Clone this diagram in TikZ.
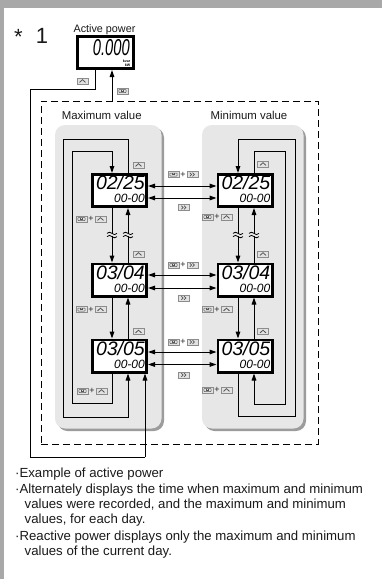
\documentclass[tikz,border=0pt]{standalone}
\usepackage{fontspec}
\setmainfont{Liberation Sans}
\usepackage{graphicx}
\usetikzlibrary{arrows.meta}
\definecolor{frame}{HTML}{A8A8A8}
\definecolor{panel}{HTML}{E7E7E7}
\definecolor{panelshadow}{HTML}{9C9C9C}
\definecolor{keyfill}{HTML}{E2E2E2}
\definecolor{keyedge}{HTML}{8C8C8C}
\definecolor{keysym}{HTML}{555555}
\definecolor{txt}{HTML}{1A1A1A}
\tikzset{
  conn/.style={line width=1pt, draw=black},
  arr/.style={conn, -{Triangle[length=7pt,width=4.6pt]}},
  darr/.style={conn, {Triangle[length=7pt,width=4.6pt]}-{Triangle[length=7pt,width=4.6pt]}},
  lcd/.style={draw, line width=2.6pt, fill=white, minimum width=54.4pt, minimum height=32.4pt, inner sep=0pt},
  bigdig/.style={font=\fontsize{19.5}{19.5}\selectfont\itshape, inner sep=0pt},
  smalldig/.style={font=\fontsize{12}{12}\selectfont\itshape, inner sep=0pt},
  keybox/.style={draw=keyedge, fill=keyfill, line width=0.5pt, minimum width=11pt, minimum height=6pt, inner sep=0pt, outer sep=0pt},
  upkey/.style={keybox, path picture={\draw[line width=0.8pt, keysym] ([shift={(-3pt,-1.4pt)}]path picture bounding box.center) -- ++(3pt,2.7pt) -- ++(3pt,-2.7pt);}},
  ffkey/.style={keybox, path picture={\draw[line width=0.7pt, keysym] ([shift={(-2.6pt,1.8pt)}]path picture bounding box.center) -- ++(1.8pt,-1.8pt) -- ++(-1.8pt,-1.8pt) ([shift={(0pt,1.8pt)}]path picture bounding box.center) -- ++(1.8pt,-1.8pt) -- ++(-1.8pt,-1.8pt);}},
  setkey/.style={keybox, path picture={\draw[line width=0.5pt, keysym, rounded corners=0.6pt] ([shift={(-3.6pt,-1.5pt)}]path picture bounding box.center) rectangle ++(7.2pt,3pt); \draw[line width=0.5pt, keysym] ([shift={(-1.2pt,1.5pt)}]path picture bounding box.center) -- ++(0pt,-1.3pt) -- ++(2.4pt,0pt) -- ++(0pt,1.3pt);}},
  plusnode/.style={font=\fontsize{9}{9}\selectfont, text=black!85, inner sep=0pt},
  body/.style={font=\fontsize{13.2}{15}\selectfont, text=txt, inner sep=0pt, anchor=base west},
  title/.style={font=\fontsize{11.4}{12}\selectfont, text=txt, inner sep=0pt, anchor=base},
  panelbox/.style={fill=panel, rounded corners=10pt},
  shadowbox/.style={fill=panelshadow, rounded corners=10pt},
  groupbox/.style={draw, line width=1pt, dash pattern=on 7pt off 4pt, minimum width=277pt, minimum height=343pt, inner sep=0pt},
}
\newcommand\lcdbox[5]{%
  \node[lcd] (#1) at (#2,#3) {};
  \node[bigdig, anchor=base east] (#1b) at (#2+25.5,#3-1) {#4};
  \node[smalldig, anchor=base east] (#1s) at (#2+25.5,#3+12.3) {#5};
}
\newcommand\keycombo[4]{%
  \node[setkey] (#1s) at (#2-9.5,#3) {};
  \node[plusnode] (#1p) at (#2,#3) {+};
  \node[#4] (#1k) at (#2+9.5,#3) {};
}
\newcommand\breakmark[1]{%
  \fill[panel] (#1-5,234) rectangle (#1+5,236);
  \draw[line width=0.8pt] (#1-5,233.4) sin (#1-2.5,232.2) cos (#1,233.4) sin (#1+2.5,234.6) cos (#1+5,233.4);
  \draw[line width=0.8pt] (#1-5,236.6) sin (#1-2.5,235.4) cos (#1,236.6) sin (#1+2.5,237.8) cos (#1+5,236.6);
}
\begin{document}
\begin{tikzpicture}[x=1pt,y=-1pt]
\useasboundingbox (0,0) rectangle (382,579);
\fill[white] (0,0) rectangle (382,579);
% page frame
\fill[frame] (0,0) rectangle (382,8);
\fill[frame] (0,0) rectangle (4,579);

% heading
\node[font=\fontsize{22}{22}\selectfont, text=txt, inner sep=0pt] (star) at (18.5,37) {*};
\node[font=\fontsize{22}{22}\selectfont, text=txt, inner sep=0pt, anchor=base] (one) at (42,43) {1};
\node[font=\fontsize{10.8}{11}\selectfont, text=txt, inner sep=0pt, anchor=base] (aplabel) at (104.5,32) {Active power};
\node[draw, line width=2.6pt, fill=white, minimum width=56.4pt, minimum height=32.4pt, inner sep=0pt] (ap) at (105.5,52.5) {};
\node[font=\fontsize{23}{23}\selectfont\itshape, inner sep=0pt, text depth=0pt, anchor=base east] (apval) at (130,55.5) {\scalebox{0.64}[1]{0.000}};
\node[font=\fontsize{3.6}{3.8}\selectfont\bfseries, inner sep=0pt, anchor=north east, align=right] (apunit) at (130.5,59.5) {kvar\\kW};

% group
\node[groupbox] (grp) at (179.5,272.5) {};

% panels
\fill[shadowbox] (57.5,127.5) rectangle (164,431);
\fill[panelbox] (55,125) rectangle (161.5,428.5);
\fill[shadowbox] (204.5,127.5) rectangle (306,431);
\fill[panelbox] (202,125) rectangle (303.5,428.5);
\node[title] (tmax) at (101.7,119.3) {Maximum value};
\node[title] (tmin) at (249,119.3) {Minimum value};

% displays
\lcdbox{L1}{119.5}{190.5}{02/25}{00-00}
\lcdbox{L2}{119.5}{280}{03/04}{00-00}
\lcdbox{L3}{119.5}{356}{03/05}{00-00}
\lcdbox{R1}{245}{190.5}{02/25}{00-00}
\lcdbox{R2}{245}{280}{03/04}{00-00}
\lcdbox{R3}{245}{356}{03/05}{00-00}

% coordinates
\coordinate (dk) at (112,0);
\coordinate (ap1) at (95,89);
\coordinate (ap2) at (30,89);
\coordinate (ap3) at (30,457);
\coordinate (ap4) at (145,457);
\coordinate (li1) at (112,403);
\coordinate (li2) at (72,403);
\coordinate (li3) at (72,151);
\coordinate (li4) at (112,151);
\coordinate (lo1) at (128,139);
\coordinate (lo2) at (63,139);
\coordinate (lo3) at (63,417);
\coordinate (lo4) at (128,417);
\coordinate (ro1) at (238,416);
\coordinate (ro2) at (295,416);
\coordinate (ro3) at (295,139);
\coordinate (ro4) at (238,139);
\coordinate (ri1) at (254,151);
\coordinate (ri2) at (285,151);
\coordinate (ri3) at (285,404);
\coordinate (ri4) at (254,404);
\coordinate (h1a) at (0,186);
\coordinate (h1b) at (0,198);
\coordinate (h2a) at (0,275);
\coordinate (h2b) at (0,288);
\coordinate (h3a) at (0,352);
\coordinate (h3b) at (0,364.5);

% top connectors
\draw[conn] (ap.south -| ap1) -- (ap1) -- (ap2) -- (ap3) -- (ap4);
\draw[arr] (ap4) -- (L3.south -| ap4);
\draw[arr] (grp.north -| dk) -- (ap.south -| dk);

% left panel loops
\draw[arr] (L3.south -| li1) -- (li1) -- (li2) -- (li3) -- (li4) -- (L1.north -| li4);
\draw[arr] (L1.north -| lo1) -- (lo1) -- (lo2) -- (lo3) -- (lo4) -- (L3.south -| lo4);
\draw[arr] (L1.south -| li1) -- (L2.north -| li1);
\draw[arr] (L2.north -| lo1) -- (L1.south -| lo1);
\draw[arr] (L2.south -| li1) -- (L3.north -| li1);
\draw[arr] (L3.north -| lo1) -- (L2.south -| lo1);

% right panel loops
\draw[arr] (R3.south -| ro1) -- (ro1) -- (ro2) -- (ro3) -- (ro4) -- (R1.north -| ro4);
\draw[arr] (R1.north -| ri1) -- (ri1) -- (ri2) -- (ri3) -- (ri4) -- (R3.south -| ri4);
\draw[arr] (R1.south -| ro1) -- (R2.north -| ro1);
\draw[arr] (R2.north -| ri1) -- (R1.south -| ri1);
\draw[arr] (R2.south -| ro1) -- (R3.north -| ro1);
\draw[arr] (R3.north -| ri1) -- (R2.south -| ri1);

% break marks
\breakmark{112}
\breakmark{128}
\breakmark{238}
\breakmark{254}

% between panels
\draw[darr] (L1.east |- h1a) -- (R1.west |- h1a);
\draw[darr] (L1.east |- h1b) -- (R1.west |- h1b);
\draw[darr] (L2.east |- h2a) -- (R2.west |- h2a);
\draw[darr] (L2.east |- h2b) -- (R2.west |- h2b);
\draw[darr] (L3.east |- h3a) -- (R3.west |- h3a);
\draw[darr] (L3.east |- h3b) -- (R3.west |- h3b);

% keys
\node[upkey] (k0u) at (82.5,81) {};
\node[setkey] (k0s) at (122.5,91) {};
\node[upkey] (kl1) at (138.5,165) {};
\keycombo{cl12}{91}{219}{upkey}
\node[upkey] (kl21) at (138.5,254) {};
\keycombo{cl23}{91}{309.5}{upkey}
\node[upkey] (kl32) at (138.5,331.5) {};
\keycombo{cl31}{92}{391}{upkey}
\node[upkey] (kr1) at (263,164) {};
\keycombo{cr12}{217}{217}{upkey}
\node[upkey] (kr21) at (263,254) {};
\keycombo{cr23}{217}{309.5}{upkey}
\node[upkey] (kr32) at (263,331.5) {};
\keycombo{cr31}{217}{390}{upkey}
\keycombo{cm1}{183}{174.5}{ffkey}
\node[ffkey] (km1) at (184,207.5) {};
\keycombo{cm2}{183}{265}{ffkey}
\node[ffkey] (km2) at (184,298) {};
\keycombo{cm3}{183}{342}{ffkey}
\node[ffkey] (km3) at (184,375) {};

% notes
\node[body] (n1) at (15,477) {·Example of active power};
\node[body] (n2) at (15,493.5) {·Alternately displays the time when maximum and minimum};
\node[body] (n3) at (24.5,508.5) {values were recorded, and the maximum and minimum};
\node[body] (n4) at (24.5,523.5) {values, for each day.};
\node[body] (n5) at (15,540) {·Reactive power displays only the maximum and minimum};
\node[body] (n6) at (24.5,555) {values of the current day.};
\end{tikzpicture}
\end{document}
